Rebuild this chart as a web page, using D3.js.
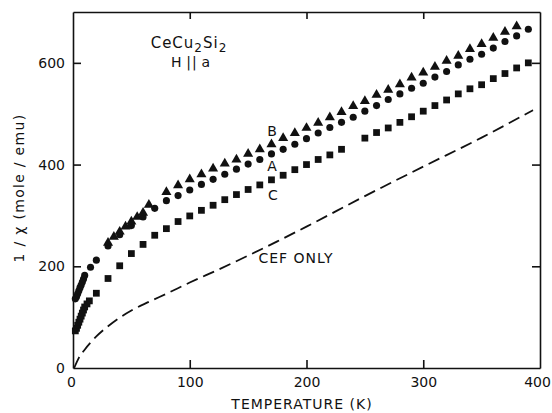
<!DOCTYPE html>
<html>
<head>
<meta charset="utf-8">
<script src="https://cdn.jsdelivr.net/npm/d3@7"></script>
<style>
  body { margin: 0; background: #fff; }
  svg { display: block; }
  text { font-family: "DejaVu Sans", sans-serif; fill: #111; }
</style>
</head>
<body>
<div id="chart"></div>
<script>
// curve A (circles)
const tempA = [2, 3, 4, 5, 6, 7, 8, 9, 10, 15, 20, 30, 40, 50, 60, 70, 80, 90, 100, 110, 120, 130, 140, 150, 160, 170, 180, 190, 200, 210, 220, 230, 240, 250, 260, 270, 280, 290, 300, 310, 320, 330, 340, 350, 360, 370, 380, 390];
const valA = [136, 140, 146, 152, 158, 163, 169, 175, 182, 198, 212, 240, 262, 280, 297, 314, 329, 339, 350, 361, 371, 381, 391, 401, 410, 421, 430, 440, 451, 462, 473, 483, 493, 505, 516, 528, 539, 550, 560, 572, 583, 596, 607, 617, 629, 642, 653, 666];

// curve B (triangles)
const tempB = [30, 35, 40, 45, 50, 55, 60, 65, 80, 90, 100, 110, 120, 130, 140, 150, 160, 170, 180, 190, 200, 210, 220, 230, 240, 250, 260, 270, 280, 290, 300, 310, 320, 330, 340, 350, 360, 370, 380];
const valB = [246, 258, 268, 278, 288, 297, 305, 321, 346, 359, 371, 381, 392, 402, 410, 421, 430, 440, 452, 462, 472, 482, 493, 503, 515, 525, 537, 547, 558, 571, 581, 592, 604, 614, 627, 637, 649, 661, 672];

// curve C (squares)
const tempC = [2, 3, 4, 5, 6, 7, 8, 9, 10, 12, 14, 20, 30, 40, 50, 60, 70, 80, 90, 100, 110, 120, 130, 140, 150, 160, 170, 180, 190, 200, 210, 220, 230, 250, 260, 270, 280, 290, 300, 310, 320, 330, 340, 350, 360, 370, 380, 390];
const valC = [73, 78, 84, 90, 96, 102, 108, 114, 120, 126, 132, 147, 176, 201, 225, 243, 261, 274, 288, 299, 310, 320, 331, 341, 351, 360, 370, 379, 390, 400, 410, 419, 430, 452, 463, 472, 483, 494, 505, 516, 527, 539, 549, 557, 569, 579, 590, 600];

// crystal field only (dashed)
const tempCEF = [1, 5, 10, 20, 30, 40, 50, 65, 80, 100, 125, 150, 175, 200, 250, 300, 350, 394];
const valCEF = [0, 20, 36, 62, 82, 99, 113, 130, 146, 168, 194, 221, 249, 278, 338, 396, 453, 507];

const xTicks = [0, 100, 200, 300, 400];
const yTicks = [0, 200, 400, 600];

const W = 552, H = 413;
const margin = { top: 12, right: 12, bottom: 45, left: 73 };

const svg = d3.select("#chart").append("svg")
  .attr("width", W)
  .attr("height", H);

const x = d3.scaleLinear().domain([0, 400]).range([margin.left, W - margin.right]);
const y = d3.scaleLinear().domain([0, 700]).range([H - margin.bottom, margin.top]);

// frame + ticks
const axBottom = svg.append("g")
  .attr("transform", `translate(0, ${y(0)})`)
  .call(d3.axisBottom(x).tickValues(xTicks).tickSize(-8).tickSizeOuter(0).tickPadding(9).tickFormat(d3.format("d")));
const axLeft = svg.append("g")
  .attr("transform", `translate(${x(0)}, 0)`)
  .call(d3.axisLeft(y).tickValues(yTicks).tickSize(-8).tickSizeOuter(0).tickPadding(8).tickFormat(d3.format("d")));
const axTop = svg.append("g")
  .attr("transform", `translate(0, ${y(700)})`)
  .call(d3.axisTop(x).tickValues([100, 200, 300]).tickSize(-7).tickSizeOuter(0).tickFormat(""));
const axRight = svg.append("g")
  .attr("transform", `translate(${x(400)}, 0)`)
  .call(d3.axisRight(y).tickValues([200, 400, 600]).tickSize(-8).tickSizeOuter(0).tickFormat(""));

[axBottom, axLeft, axTop, axRight].forEach((g) => {
  g.selectAll("path, line").attr("stroke", "#111").attr("stroke-width", 1.6);
  g.selectAll("text").style("font-size", "14px").attr("fill", "#111");
});
axBottom.selectAll(".tick").filter((d) => d === 0 || d === 400).select("line").remove();
axLeft.selectAll(".tick").filter((d) => d === 0).select("line").remove();
// keep the last label inside the window
axBottom.selectAll(".tick").filter((d) => d === 400).select("text").attr("x", -3);
axBottom.selectAll(".tick").filter((d) => d === 0).select("text").attr("x", -2);

// dashed CEF curve
const cef = tempCEF.map((t, i) => [t, valCEF[i]]);
svg.append("path")
  .datum(cef)
  .attr("fill", "none")
  .attr("stroke", "#111")
  .attr("stroke-width", 1.8)
  .attr("stroke-dasharray", "12,6")
  .attr("d", d3.line().x((d) => x(d[0])).y((d) => y(d[1])).curve(d3.curveMonotoneX));

// markers
const series = [
  { temp: tempA, vals: valA, type: d3.symbolCircle, size: 40 },
  { temp: tempB, vals: valB, type: d3.symbolTriangle, size: 44 },
  { temp: tempC, vals: valC, type: d3.symbolSquare, size: 46 }
];
series.forEach((s) => {
  svg.append("g")
    .selectAll("path")
    .data(s.temp.map((t, i) => [t, s.vals[i]]))
    .join("path")
    .attr("transform", (d) => `translate(${x(d[0])}, ${y(d[1])})`)
    .attr("d", d3.symbol().type(s.type).size(s.size))
    .attr("fill", "#111");
});

// labels
const title = svg.append("text")
  .attr("x", 189).attr("y", 48)
  .attr("text-anchor", "middle")
  .style("font-size", "15px")
  .style("letter-spacing", "1px");
title.append("tspan").text("CeCu");
title.append("tspan").attr("dy", 4).style("font-size", "12px").text("2");
title.append("tspan").attr("dy", -4).text("Si");
title.append("tspan").attr("dy", 4).style("font-size", "12px").text("2");

svg.append("text")
  .attr("x", 191).attr("y", 67)
  .attr("text-anchor", "middle")
  .style("font-size", "14px")
  .style("letter-spacing", "1px")
  .text("H\u2009||\u2009a");

[["B", 272, 136], ["A", 272, 171], ["C", 273, 200]].forEach(([t, px, py]) => {
  svg.append("text")
    .attr("x", px).attr("y", py)
    .attr("text-anchor", "middle")
    .style("font-size", "14px")
    .text(t);
});

svg.append("text")
  .attr("x", 296).attr("y", 263)
  .attr("text-anchor", "middle")
  .style("font-size", "14px")
  .style("letter-spacing", "1px")
  .text("CEF ONLY");

svg.append("text")
  .attr("x", 302).attr("y", 409)
  .attr("text-anchor", "middle")
  .style("font-size", "14px")
  .style("letter-spacing", "1px")
  .text("TEMPERATURE (K)");

svg.append("text")
  .attr("transform", "translate(24, 188) rotate(-90)")
  .attr("text-anchor", "middle")
  .style("font-size", "14px")
  .style("letter-spacing", "1.3px")
  .text("1 / \u03c7 (mole / emu)");
</script>
</body>
</html>
